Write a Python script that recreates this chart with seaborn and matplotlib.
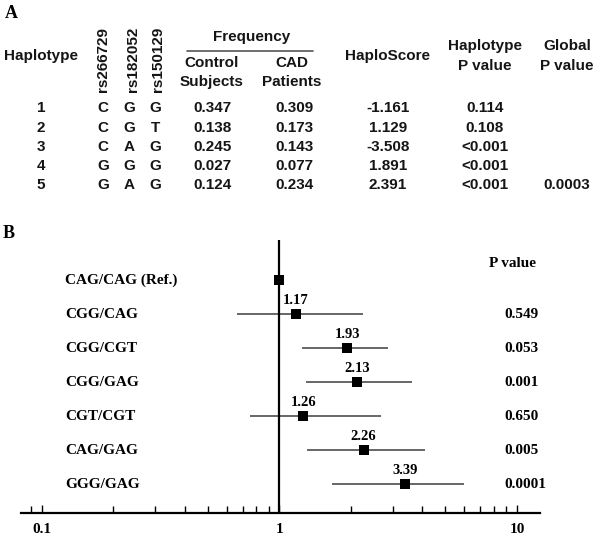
import numpy as np
import pandas as pd
import matplotlib
matplotlib.use("Agg")
import matplotlib.pyplot as plt
from matplotlib.lines import Line2D
import seaborn as sns

# === Table data (panel A) ===
hap_ids = [1, 2, 3, 4, 5]
snp_names = ["rs266729", "rs182052", "rs150129"]
snp1 = ["C", "C", "C", "G", "G"]
snp2 = ["G", "G", "A", "G", "A"]
snp3 = ["G", "T", "G", "G", "G"]
freq_control = [0.347, 0.138, 0.245, 0.027, 0.124]
freq_cad = [0.309, 0.173, 0.143, 0.077, 0.234]
haplo_score = [-1.161, 1.129, -3.508, 1.891, 2.391]
hap_p = ["0.114", "0.108", "<0.001", "<0.001", "<0.001"]
global_p = ["", "", "", "", "0.0003"]

# === Forest plot data (panel B) ===
genotypes = ["CAG/CAG (Ref.)", "CGG/CAG", "CGG/CGT", "CGG/GAG",
             "CGT/CGT", "CAG/GAG", "GGG/GAG"]
odds = [1.0, 1.17, 1.93, 2.13, 1.26, 2.26, 3.39]
ci_low = [np.nan, 0.66, 1.25, 1.29, 0.75, 1.31, 1.67]
ci_high = [np.nan, 2.25, 2.87, 3.62, 2.68, 4.11, 5.99]
pvals = ["", "0.549", "0.053", "0.001", "0.650", "0.005", "0.0001"]

sns.set_style("white")
plt.rcParams['font.family'] = ['Liberation Sans', 'DejaVu Sans']

W, H = 600, 543
fig = plt.figure(figsize=(W / 100, H / 100), dpi=100)


def ftext(x, y, s, **kw):
    # place text using pixel coordinates from the top-left corner
    kw.setdefault('ha', 'center')
    kw.setdefault('va', 'center')
    fig.text(x / W, 1 - y / H, s, **kw)


sans = dict(family='Liberation Sans', fontweight='bold', fontsize=11, color='#151515')
serif = dict(family='Liberation Serif', fontweight='bold', color='black')

# --- Panel A ---
ftext(11, 13, "A", fontsize=13, **serif)
ftext(41, 56, "Haplotype", **sans)
for xs, name in zip([103, 133, 158], snp_names):
    ftext(xs, 92, name, rotation=90, va='bottom', **sans)
ftext(252, 37, "Frequency", **sans)
fig.add_artist(Line2D([187 / W, 313 / W], [1 - 51 / H, 1 - 51 / H],
                      color='#555555', lw=1.2))
ftext(212, 63, "Control", **sans)
ftext(212, 82, "Subjects", **sans)
ftext(292, 63, "CAD", **sans)
ftext(292, 82, "Patients", **sans)
ftext(388, 56, "HaploScore", **sans)
ftext(485, 46, "Haplotype", **sans)
ftext(485, 66, "P value", **sans)
ftext(567, 46, "Global", **sans)
ftext(567, 66, "P value", **sans)

row_y = [108, 128, 147, 166, 185]
for i, y in enumerate(row_y):
    ftext(41, y, str(hap_ids[i]), **sans)
    ftext(103, y, snp1[i], **sans)
    ftext(129, y, snp2[i], **sans)
    ftext(155, y, snp3[i], **sans)
    ftext(212, y, f"{freq_control[i]:.3f}", **sans)
    ftext(294, y, f"{freq_cad[i]:.3f}", **sans)
    ftext(388, y, f"{haplo_score[i]:.3f}", **sans)
    ftext(485, y, hap_p[i], **sans)
    ftext(567, y, global_p[i], **sans)

# --- Panel B ---
ftext(9, 233, "B", fontsize=13, **serif)

df = pd.DataFrame({"genotype": genotypes, "odds": odds,
                   "low": ci_low, "high": ci_high, "p": pvals})
df["row"] = np.arange(len(df))

ax = fig.add_axes([21 / W, 1 - 513 / H, 519 / W, (513 - 240) / H])
ax.set_xscale('log')
ax.set_xlim(0.0816, 12.5)
ax.set_ylim(6.85, -1.18)

ci = df.dropna()
ax.hlines(ci["row"], ci["low"], ci["high"], color='#5a5a5a', lw=1.3, zorder=2)
ax.axvline(1, color='black', lw=1.6, zorder=3)
sns.scatterplot(data=df, x="odds", y="row", marker='s', s=45, color='black',
                edgecolor='black', linewidth=0, zorder=4, ax=ax, legend=False)

for _, r in df.iterrows():
    ax.text(0.085, r["row"], r["genotype"], transform=ax.get_yaxis_transform(),
            ha='left', va='center', fontsize=11, **serif)
    ax.text(0.932, r["row"], r["p"], transform=ax.get_yaxis_transform(),
            ha='left', va='center', fontsize=11, clip_on=False, **serif)
    if r["row"] > 0:
        ax.annotate(f"{r['odds']:.2f}", (r["odds"], r["row"]),
                    xytext=(0, 5), textcoords='offset points',
                    ha='center', va='bottom', fontsize=10.5, **serif)
ax.text(0.902, -0.5, "P value", transform=ax.get_yaxis_transform(),
        ha='left', va='center', fontsize=11, **serif)

ax.set_xlabel("")
ax.set_ylabel("")
ax.set_yticks([])
for side in ['left', 'right', 'top']:
    ax.spines[side].set_visible(False)
ax.spines['bottom'].set_linewidth(1.6)
ax.spines['bottom'].set_color('black')
ax.set_xticks([0.1, 1, 10])
ax.set_xticklabels(["0.1", "1", "10"])
ax.xaxis.set_minor_locator(matplotlib.ticker.LogLocator(base=10, subs=np.arange(2, 10)))
ax.xaxis.set_minor_formatter(matplotlib.ticker.NullFormatter())
ax.tick_params(axis='x', which='both', direction='in', bottom=True,
               colors='black', width=1.0)
ax.tick_params(axis='x', which='major', length=6, pad=7)
ax.tick_params(axis='x', which='minor', length=5)
for lbl in ax.get_xticklabels():
    lbl.set_family('Liberation Serif')
    lbl.set_fontweight('bold')
    lbl.set_fontsize(11)

fig.savefig("out.png", dpi=100)
